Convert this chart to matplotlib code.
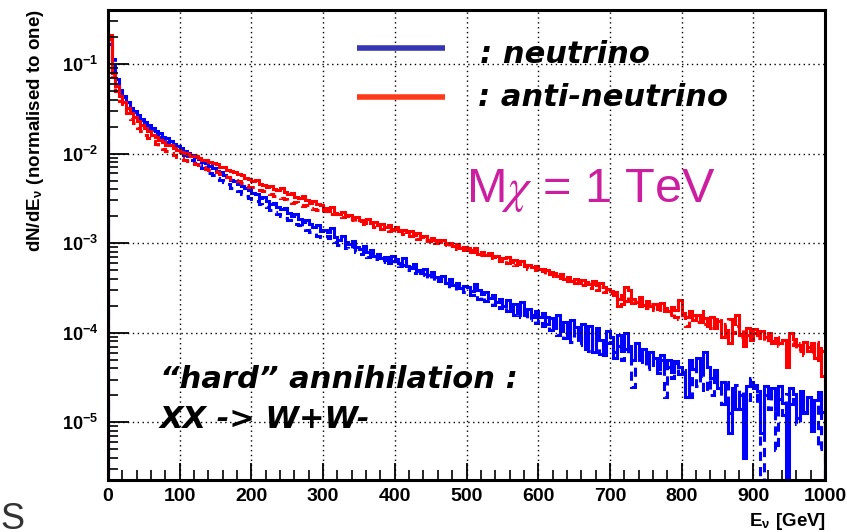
"""
Neutrino / anti-neutrino energy spectra from 1 TeV WIMP annihilation (W+W- channel)
ROOT-style log histogram redrawn with matplotlib
"""
import numpy as np
import matplotlib
matplotlib.use("Agg")
import matplotlib.pyplot as plt
from matplotlib.ticker import FixedLocator, LogLocator, NullFormatter

# bin width 5 GeV, 0 - 1000 GeV ; values are log10(dN/dE)
bin_width = 5
e_max = 1000

# solid blue : neutrino
nu_solid = [
    -0.72, -1.02, -1.17, -1.29, -1.37, -1.43, -1.49, -1.53, -1.57, -1.61, -1.65, -1.68, -1.71, -1.75, -1.77, -1.81, -1.83, -1.86, -1.89, -1.92,
    -1.94, -1.97, -1.99, -2.02, -2.04, -2.06, -2.09, -2.11, -2.14, -2.16, -2.19, -2.21, -2.24, -2.26, -2.29, -2.31, -2.34, -2.36, -2.39, -2.41,
    -2.44, -2.45, -2.50, -2.49, -2.53, -2.56, -2.55, -2.60, -2.62, -2.61, -2.66, -2.70, -2.68, -2.73, -2.76, -2.74, -2.79, -2.82, -2.80, -2.86,
    -2.85, -2.88, -2.83, -2.93, -2.96, -2.92, -2.99, -3.01, -2.98, -3.04, -3.07, -3.03, -3.10, -3.08, -3.14, -3.12, -3.17, -3.15, -3.22, -3.14,
    -3.18, -3.22, -3.17, -3.25, -3.28, -3.23, -3.30, -3.33, -3.29, -3.36, -3.32, -3.38, -3.42, -3.37, -3.44, -3.40, -3.47, -3.44, -3.50, -3.48,
    -3.49, -3.53, -3.46, -3.52, -3.57, -3.55, -3.61, -3.58, -3.66, -3.62, -3.70, -3.64, -3.73, -3.68, -3.78, -3.66, -3.80, -3.74, -3.83, -3.76,
    -3.82, -3.78, -3.90, -3.84, -3.95, -3.80, -3.98, -3.88, -4.02, -3.86, -3.94, -4.05, -3.90, -4.18, -3.92, -4.22, -3.95, -4.08, -4.25, -3.98,
    -4.05, -4.28, -4.02, -4.20, -4.00, -4.15, -4.30, -4.12, -4.25, -4.18, -4.34, -4.22, -4.28, -4.40, -4.25, -4.36, -4.30, -4.44, -4.32, -4.38,
    -4.45, -4.72, -4.30, -4.40, -4.28, -4.45, -4.22, -4.38, -4.50, -4.42, -4.62, -4.55, -4.80, -5.12, -4.62, -4.85, -4.70, -5.40, -4.60, -4.55,
    -4.58, -4.65, -5.12, -4.60, -4.70, -4.62, -4.85, -4.60, -4.78, -9.00, -4.62, -4.68, -4.95, -4.65, -4.90, -4.72, -5.10, -4.75, -4.66, -4.88,
]

# dashed blue : neutrino, second sample
nu_dashed = [
    -0.78, -0.95, -1.14, -1.27, -1.36, -1.42, -1.49, -1.54, -1.59, -1.63, -1.67, -1.71, -1.74, -1.78, -1.81, -1.84, -1.87, -1.90, -1.93, -1.96,
    -1.99, -2.02, -2.05, -2.07, -2.11, -2.13, -2.16, -2.18, -2.22, -2.24, -2.27, -2.29, -2.32, -2.34, -2.38, -2.40, -2.42, -2.45, -2.47, -2.50,
    -2.51, -2.53, -2.56, -2.58, -2.60, -2.63, -2.65, -2.67, -2.70, -2.72, -2.74, -2.76, -2.79, -2.80, -2.83, -2.85, -2.88, -2.89, -2.92, -2.93,
    -2.94, -2.92, -2.97, -2.99, -3.02, -3.00, -3.05, -3.07, -3.04, -3.10, -3.12, -3.09, -3.15, -3.13, -3.18, -3.16, -3.21, -3.19, -3.24, -3.20,
    -3.22, -3.26, -3.24, -3.30, -3.27, -3.33, -3.31, -3.36, -3.34, -3.40, -3.37, -3.43, -3.40, -3.46, -3.44, -3.50, -3.47, -3.52, -3.50, -3.55,
    -3.53, -3.58, -3.56, -3.62, -3.59, -3.65, -3.63, -3.69, -3.66, -3.72, -3.69, -3.76, -3.72, -3.80, -3.75, -3.83, -3.78, -3.86, -3.80, -3.89,
    -3.85, -3.92, -3.83, -3.97, -3.88, -4.02, -3.90, -4.06, -3.93, -4.10, -3.96, -4.14, -4.00, -4.08, -4.20, -4.04, -4.16, -4.24, -4.06, -4.12,
    -4.10, -4.22, -4.15, -4.30, -4.18, -4.26, -4.61, -4.20, -4.35, -4.24, -4.40, -4.28, -4.36, -4.45, -4.30, -4.72, -4.38, -4.50, -4.34, -4.46,
    -4.42, -4.55, -4.72, -4.40, -4.60, -4.48, -4.66, -4.52, -4.70, -4.45, -4.62, -4.80, -4.55, -4.90, -4.68, -4.58, -4.85, -4.62, -4.75, -4.50,
    -4.62, -4.78, -9.00, -4.70, -4.85, -4.66, -5.31, -4.74, -4.92, -4.68, -4.80, -4.72, -5.02, -4.76, -4.88, -4.70, -4.95, -4.78, -5.30, -4.84,
]

# solid red : anti-neutrino
anu_solid = [
    -0.68, -1.10, -1.25, -1.36, -1.43, -1.49, -1.55, -1.59, -1.64, -1.68, -1.72, -1.75, -1.79, -1.81, -1.85, -1.87, -1.90, -1.91, -1.94, -1.96,
    -1.98, -1.99, -2.01, -2.03, -2.03, -2.05, -2.07, -2.07, -2.10, -2.11, -2.12, -2.15, -2.15, -2.18, -2.19, -2.21, -2.23, -2.24, -2.27, -2.28,
    -2.31, -2.30, -2.34, -2.35, -2.37, -2.36, -2.40, -2.41, -2.39, -2.43, -2.45, -2.44, -2.48, -2.50, -2.47, -2.52, -2.55, -2.53, -2.56, -2.58,
    -2.61, -2.64, -2.60, -2.66, -2.68, -2.65, -2.70, -2.69, -2.73, -2.71, -2.74, -2.77, -2.73, -2.78, -2.76, -2.80, -2.79, -2.82, -2.80, -2.84,
    -2.82, -2.86, -2.85, -2.88, -2.87, -2.91, -2.89, -2.93, -2.92, -2.96, -2.94, -2.97, -2.99, -2.97, -3.01, -3.00, -3.03, -3.01, -3.05, -3.04,
    -3.06, -3.08, -3.06, -3.12, -3.10, -3.13, -3.11, -3.16, -3.14, -3.18, -3.17, -3.15, -3.21, -3.19, -3.23, -3.20, -3.25, -3.24, -3.27, -3.26,
    -3.29, -3.31, -3.30, -3.34, -3.33, -3.37, -3.35, -3.40, -3.38, -3.42, -3.40, -3.44, -3.41, -3.43, -3.46, -3.42, -3.47, -3.45, -3.49, -3.51,
    -3.53, -3.58, -3.70, -3.68, -3.49, -3.52, -3.62, -3.66, -3.60, -3.69, -3.65, -3.70, -3.68, -3.73, -3.67, -3.72, -3.76, -3.71, -3.75, -3.64,
    -3.78, -3.82, -3.76, -3.86, -3.80, -3.88, -3.84, -3.92, -3.83, -3.95, -3.87, -4.05, -3.97, -4.12, -3.90, -3.80, -4.03, -4.15, -3.95, -4.08,
    -3.96, -4.02, -3.98, -4.05, -4.00, -4.09, -4.06, -4.12, -4.08, -4.38, -4.00, -4.07, -4.14, -4.18, -4.10, -4.20, -4.12, -4.28, -4.17, -4.48,
]

# dashed red : anti-neutrino, second sample
anu_dashed = [
    -0.72, -1.14, -1.30, -1.41, -1.49, -1.55, -1.62, -1.66, -1.71, -1.75, -1.79, -1.83, -1.86, -1.89, -1.92, -1.95, -1.97, -1.99, -2.02, -2.04,
    -2.05, -2.07, -2.08, -2.11, -2.12, -2.13, -2.15, -2.17, -2.18, -2.20, -2.21, -2.23, -2.25, -2.26, -2.28, -2.30, -2.31, -2.33, -2.35, -2.37,
    -2.37, -2.39, -2.41, -2.42, -2.44, -2.45, -2.47, -2.48, -2.50, -2.51, -2.53, -2.55, -2.54, -2.57, -2.59, -2.58, -2.61, -2.62, -2.63, -2.65,
    -2.64, -2.62, -2.67, -2.68, -2.66, -2.71, -2.70, -2.74, -2.72, -2.76, -2.75, -2.79, -2.77, -2.78, -2.82, -2.80, -2.84, -2.83, -2.86, -2.85,
    -2.87, -2.85, -2.90, -2.89, -2.92, -2.90, -2.95, -2.93, -2.96, -2.98, -2.95, -3.00, -2.99, -3.02, -3.00, -3.05, -3.03, -3.07, -3.04, -3.08,
    -3.07, -3.10, -3.09, -3.13, -3.11, -3.15, -3.13, -3.17, -3.15, -3.20, -3.18, -3.22, -3.20, -3.24, -3.22, -3.26, -3.24, -3.29, -3.27, -3.30,
    -3.31, -3.29, -3.34, -3.32, -3.37, -3.35, -3.39, -3.37, -3.42, -3.40, -3.45, -3.42, -3.47, -3.44, -3.50, -3.46, -3.52, -3.49, -3.55, -3.51,
    -3.56, -3.54, -3.62, -3.58, -3.65, -3.60, -3.67, -3.63, -3.70, -3.66, -3.72, -3.68, -3.75, -3.70, -3.78, -3.73, -3.80, -3.74, -3.83, -3.85,
    -3.80, -3.92, -3.84, -3.80, -3.88, -3.76, -3.90, -3.84, -3.95, -3.86, -3.82, -3.98, -3.90, -3.85, -4.00, -3.92, -4.05, -3.95, -4.02, -3.97,
    -4.00, -4.06, -3.97, -4.10, -4.03, -4.12, -4.05, -4.15, -4.08, -4.18, -4.10, -4.14, -4.20, -4.12, -4.25, -4.16, -4.22, -4.10, -4.30, -4.20,
]

x_major = [0, 100, 200, 300, 400, 500, 600, 700, 800, 900, 1000]
y_major = [1e-5, 1e-4, 1e-3, 1e-2, 1e-1]
y_labels = [r"$\mathbf{10^{-5}}$", r"$\mathbf{10^{-4}}$", r"$\mathbf{10^{-3}}$",
            r"$\mathbf{10^{-2}}$", r"$\mathbf{10^{-1}}$"]

BLUE = "#0000ff"
RED = "#ff0000"
MAGENTA = "#cc1fa0"


def plot_spectra():
    plt.rcParams["font.family"] = ["Liberation Sans", "DejaVu Sans"]
    plt.rcParams["mathtext.fontset"] = "custom"
    plt.rcParams["mathtext.rm"] = "Liberation Sans"
    plt.rcParams["mathtext.bf"] = "Liberation Sans:bold"
    plt.rcParams["mathtext.it"] = "STIXGeneral:italic"

    fig = plt.figure(figsize=(8.47, 5.32), dpi=100)
    ax = fig.add_axes([108 / 847, 52 / 532, 717 / 847, 470 / 532])

    edges = np.arange(0, e_max + bin_width, bin_width)

    # histograms (blue first, red on top)
    ax.stairs(10 ** np.array(nu_solid), edges, color=BLUE, lw=2.2)
    ax.stairs(10 ** np.array(nu_dashed), edges, color=BLUE, lw=2.2, linestyle=(0, (3, 2)))
    ax.stairs(10 ** np.array(anu_solid), edges, color=RED, lw=2.2)
    ax.stairs(10 ** np.array(anu_dashed), edges, color=RED, lw=2.2, linestyle=(0, (3, 2)))

    ax.set_yscale("log")
    ax.set_xlim(0, e_max)
    ax.set_ylim(2.27e-6, 0.40)

    # ROOT style ticks
    ax.xaxis.set_major_locator(FixedLocator(x_major))
    ax.xaxis.set_minor_locator(FixedLocator(np.arange(0, 1001, 20)))
    ax.set_xticklabels([str(v) for v in x_major], fontsize=14, fontweight="bold")
    ax.yaxis.set_major_locator(FixedLocator(y_major))
    ax.yaxis.set_minor_locator(LogLocator(base=10, subs=np.arange(2, 10)))
    ax.yaxis.set_minor_formatter(NullFormatter())
    ax.set_yticklabels(y_labels, fontsize=13)
    ax.tick_params(axis="both", which="major", direction="in", width=1.3, colors="black")
    ax.tick_params(axis="x", which="major", length=12, pad=6)
    ax.tick_params(axis="y", which="major", length=15, pad=7)
    ax.tick_params(axis="both", which="minor", direction="in", width=1.2, length=7)
    ax.tick_params(top=False, right=False, which="both")

    for s in ax.spines.values():
        s.set_linewidth(2.2)

    ax.grid(True, which="major", color="black", linestyle=(0, (1, 2.5)), linewidth=1.0)

    # axis titles
    fig.text(36 / 847, 1 - 9 / 532, r"dN/dE$_{\mathbf{\nu}}$ (normalised to one)",
             rotation=90, ha="center", va="top", fontsize=13.5, fontweight="bold")
    fig.text(826 / 847, 1 - 521 / 532, r"E$_{\mathbf{\nu}}$ [GeV]",
             ha="right", va="center", fontsize=13.5, fontweight="bold")

    # hand-made legend
    ax.plot([0.347, 0.470], [0.919, 0.919], transform=ax.transAxes,
            color="#3535b5", lw=4, solid_capstyle="butt", clip_on=False)
    ax.plot([0.347, 0.470], [0.815, 0.815], transform=ax.transAxes,
            color="#ff3a1a", lw=4, solid_capstyle="butt", clip_on=False)
    ax.text(0.519, 0.905, ": neutrino", transform=ax.transAxes, ha="left", va="center",
            fontsize=22, fontweight="bold", style="italic", family="DejaVu Sans")
    ax.text(0.516, 0.813, ": anti-neutrino", transform=ax.transAxes, ha="left", va="center",
            fontsize=22, fontweight="bold", style="italic", family="DejaVu Sans")

    ax.text(0.499, 0.617, r"M$\chi$ = 1 TeV", transform=ax.transAxes, ha="left", va="center",
            fontsize=35, color=MAGENTA)

    ax.text(0.072, 0.213, "\u201chard\u201d annihilation :", transform=ax.transAxes,
            ha="left", va="center", fontsize=22, fontweight="bold", style="italic",
            family="DejaVu Sans")
    ax.text(0.072, 0.128, "XX -> W+W-", transform=ax.transAxes,
            ha="left", va="center", fontsize=22, fontweight="bold", style="italic",
            family="DejaVu Sans")

    # cut-off letter in the bottom left corner of the slide
    fig.text(0.0, 1 - 502 / 532, "S", ha="left", va="top", fontsize=26, color="#333333")

    plt.savefig("out.png", dpi=100)


if __name__ == "__main__":
    plot_spectra()
